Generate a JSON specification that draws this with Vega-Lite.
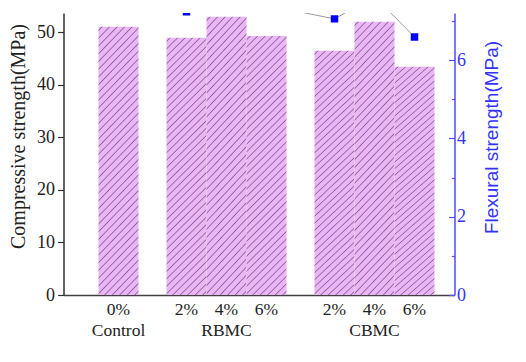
{
 "$schema": "https://vega.github.io/schema/vega-lite/v6.json",
 "autosize": "none",
 "width": 391,
 "height": 282,
 "padding": {"left": 63.5, "top": 13, "right": 71.5, "bottom": 67},
 "background": "white",
 "config": {"view": {"stroke": null}, "axis": {"grid": false}},
 "data": {"values": [
  {"group": "Control", "pct": "0%", "slot": 1, "compressive": 51.07, "flexural": 7.45},
  {"group": "RBMC", "pct": "2%", "slot": 2.7, "compressive": 48.97, "flexural": 7.23},
  {"group": "RBMC", "pct": "4%", "slot": 3.7, "compressive": 52.97, "flexural": 7.75},
  {"group": "RBMC", "pct": "6%", "slot": 4.7, "compressive": 49.3, "flexural": 7.4},
  {"group": "CBMC", "pct": "2%", "slot": 6.4, "compressive": 46.5, "flexural": 7.05},
  {"group": "CBMC", "pct": "4%", "slot": 7.4, "compressive": 52.0, "flexural": 7.62},
  {"group": "CBMC", "pct": "6%", "slot": 8.4, "compressive": 43.45, "flexural": 6.59}
 ]},
 "layer": [
  {"layer": [
   {"mark": {"type": "bar", "size": 40, "stroke": null, "fill": {"gradient": "linear", "x1": 0, "y1": 0, "x2": 0.1734, "y2": 1.127, "stops": [
     {"offset": 0, "color": "#ebb6f8"},
     {"offset": 0.0085, "color": "#ebb6f8"}, {"offset": 0.0125, "color": "#8a6494"}, {"offset": 0.0165, "color": "#ebb6f8"},
     {"offset": 0.0335, "color": "#ebb6f8"}, {"offset": 0.0375, "color": "#8a6494"}, {"offset": 0.0415, "color": "#ebb6f8"},
     {"offset": 0.0585, "color": "#ebb6f8"}, {"offset": 0.0625, "color": "#8a6494"}, {"offset": 0.0665, "color": "#ebb6f8"},
     {"offset": 0.0835, "color": "#ebb6f8"}, {"offset": 0.0875, "color": "#8a6494"}, {"offset": 0.0915, "color": "#ebb6f8"},
     {"offset": 0.1085, "color": "#ebb6f8"}, {"offset": 0.1125, "color": "#8a6494"}, {"offset": 0.1165, "color": "#ebb6f8"},
     {"offset": 0.1335, "color": "#ebb6f8"}, {"offset": 0.1375, "color": "#8a6494"}, {"offset": 0.1415, "color": "#ebb6f8"},
     {"offset": 0.1585, "color": "#ebb6f8"}, {"offset": 0.1625, "color": "#8a6494"}, {"offset": 0.1665, "color": "#ebb6f8"},
     {"offset": 0.1835, "color": "#ebb6f8"}, {"offset": 0.1875, "color": "#8a6494"}, {"offset": 0.1915, "color": "#ebb6f8"},
     {"offset": 0.2085, "color": "#ebb6f8"}, {"offset": 0.2125, "color": "#8a6494"}, {"offset": 0.2165, "color": "#ebb6f8"},
     {"offset": 0.2335, "color": "#ebb6f8"}, {"offset": 0.2375, "color": "#8a6494"}, {"offset": 0.2415, "color": "#ebb6f8"},
     {"offset": 0.2585, "color": "#ebb6f8"}, {"offset": 0.2625, "color": "#8a6494"}, {"offset": 0.2665, "color": "#ebb6f8"},
     {"offset": 0.2835, "color": "#ebb6f8"}, {"offset": 0.2875, "color": "#8a6494"}, {"offset": 0.2915, "color": "#ebb6f8"},
     {"offset": 0.3085, "color": "#ebb6f8"}, {"offset": 0.3125, "color": "#8a6494"}, {"offset": 0.3165, "color": "#ebb6f8"},
     {"offset": 0.3335, "color": "#ebb6f8"}, {"offset": 0.3375, "color": "#8a6494"}, {"offset": 0.3415, "color": "#ebb6f8"},
     {"offset": 0.3585, "color": "#ebb6f8"}, {"offset": 0.3625, "color": "#8a6494"}, {"offset": 0.3665, "color": "#ebb6f8"},
     {"offset": 0.3835, "color": "#ebb6f8"}, {"offset": 0.3875, "color": "#8a6494"}, {"offset": 0.3915, "color": "#ebb6f8"},
     {"offset": 0.4085, "color": "#ebb6f8"}, {"offset": 0.4125, "color": "#8a6494"}, {"offset": 0.4165, "color": "#ebb6f8"},
     {"offset": 0.4335, "color": "#ebb6f8"}, {"offset": 0.4375, "color": "#8a6494"}, {"offset": 0.4415, "color": "#ebb6f8"},
     {"offset": 0.4585, "color": "#ebb6f8"}, {"offset": 0.4625, "color": "#8a6494"}, {"offset": 0.4665, "color": "#ebb6f8"},
     {"offset": 0.4835, "color": "#ebb6f8"}, {"offset": 0.4875, "color": "#8a6494"}, {"offset": 0.4915, "color": "#ebb6f8"},
     {"offset": 0.5085, "color": "#ebb6f8"}, {"offset": 0.5125, "color": "#8a6494"}, {"offset": 0.5165, "color": "#ebb6f8"},
     {"offset": 0.5335, "color": "#ebb6f8"}, {"offset": 0.5375, "color": "#8a6494"}, {"offset": 0.5415, "color": "#ebb6f8"},
     {"offset": 0.5585, "color": "#ebb6f8"}, {"offset": 0.5625, "color": "#8a6494"}, {"offset": 0.5665, "color": "#ebb6f8"},
     {"offset": 0.5835, "color": "#ebb6f8"}, {"offset": 0.5875, "color": "#8a6494"}, {"offset": 0.5915, "color": "#ebb6f8"},
     {"offset": 0.6085, "color": "#ebb6f8"}, {"offset": 0.6125, "color": "#8a6494"}, {"offset": 0.6165, "color": "#ebb6f8"},
     {"offset": 0.6335, "color": "#ebb6f8"}, {"offset": 0.6375, "color": "#8a6494"}, {"offset": 0.6415, "color": "#ebb6f8"},
     {"offset": 0.6585, "color": "#ebb6f8"}, {"offset": 0.6625, "color": "#8a6494"}, {"offset": 0.6665, "color": "#ebb6f8"},
     {"offset": 0.6835, "color": "#ebb6f8"}, {"offset": 0.6875, "color": "#8a6494"}, {"offset": 0.6915, "color": "#ebb6f8"},
     {"offset": 0.7085, "color": "#ebb6f8"}, {"offset": 0.7125, "color": "#8a6494"}, {"offset": 0.7165, "color": "#ebb6f8"},
     {"offset": 0.7335, "color": "#ebb6f8"}, {"offset": 0.7375, "color": "#8a6494"}, {"offset": 0.7415, "color": "#ebb6f8"},
     {"offset": 0.7585, "color": "#ebb6f8"}, {"offset": 0.7625, "color": "#8a6494"}, {"offset": 0.7665, "color": "#ebb6f8"},
     {"offset": 0.7835, "color": "#ebb6f8"}, {"offset": 0.7875, "color": "#8a6494"}, {"offset": 0.7915, "color": "#ebb6f8"},
     {"offset": 0.8085, "color": "#ebb6f8"}, {"offset": 0.8125, "color": "#8a6494"}, {"offset": 0.8165, "color": "#ebb6f8"},
     {"offset": 0.8335, "color": "#ebb6f8"}, {"offset": 0.8375, "color": "#8a6494"}, {"offset": 0.8415, "color": "#ebb6f8"},
     {"offset": 0.8585, "color": "#ebb6f8"}, {"offset": 0.8625, "color": "#8a6494"}, {"offset": 0.8665, "color": "#ebb6f8"},
     {"offset": 0.8835, "color": "#ebb6f8"}, {"offset": 0.8875, "color": "#8a6494"}, {"offset": 0.8915, "color": "#ebb6f8"},
     {"offset": 0.9085, "color": "#ebb6f8"}, {"offset": 0.9125, "color": "#8a6494"}, {"offset": 0.9165, "color": "#ebb6f8"},
     {"offset": 0.9335, "color": "#ebb6f8"}, {"offset": 0.9375, "color": "#8a6494"}, {"offset": 0.9415, "color": "#ebb6f8"},
     {"offset": 0.9585, "color": "#ebb6f8"}, {"offset": 0.9625, "color": "#8a6494"}, {"offset": 0.9665, "color": "#ebb6f8"},
     {"offset": 0.9835, "color": "#ebb6f8"}, {"offset": 0.9875, "color": "#8a6494"}, {"offset": 0.9915, "color": "#ebb6f8"},
     {"offset": 1, "color": "#ebb6f8"}
    ]}},
    "encoding": {
     "x": {"field": "slot", "type": "quantitative", "scale": {"domain": [-0.375, 9.4], "nice": false, "zero": false, "padding": 0},
       "axis": {"title": null, "labels": false, "ticks": false, "grid": false, "domainColor": "#404040", "domainWidth": 1.6}},
     "y": {"field": "compressive", "type": "quantitative", "scale": {"domain": [0, 53.67], "nice": false},
       "axis": {"title": "Compressive strength(MPa)", "values": [0, 5, 10, 15, 20, 25, 30, 35, 40, 45, 50],
        "labelExpr": "datum.value % 10 === 0 ? datum.label : ''",
        "tickSize": {"condition": {"test": "datum.value % 10 === 0", "value": 6}, "value": 3},
        "tickColor": "#333333", "tickWidth": 1.2, "domainColor": "#333333", "domainWidth": 1.5,
        "labelFont": "Liberation Serif", "labelFontSize": 18, "labelColor": "#222222", "labelPadding": 3,
        "titleFont": "Liberation Serif", "titleFontSize": 20, "titleFontWeight": "normal", "titleColor": "#222222",
        "titleX": -45.5, "titleY": 123, "titleBaseline": "middle", "titleAngle": -90, "titleAlign": "center"}}
    }},
   {"mark": {"type": "text", "baseline": "middle", "dy": 15, "font": "Liberation Serif", "fontSize": 17.5, "color": "#222222"},
    "encoding": {
     "x": {"field": "slot", "type": "quantitative"},
     "y": {"datum": 0, "type": "quantitative"},
     "text": {"field": "pct"}}},
   {"transform": [{"aggregate": [{"op": "mean", "field": "slot", "as": "slot"}], "groupby": ["group"]}],
    "mark": {"type": "text", "baseline": "middle", "dy": 36, "font": "Liberation Serif", "fontSize": 17.5, "color": "#222222"},
    "encoding": {
     "x": {"field": "slot", "type": "quantitative"},
     "y": {"datum": 0, "type": "quantitative"},
     "text": {"field": "group"}}}
  ]},
  {"layer": [
   {"mark": {"type": "line", "color": "#9a9a9a", "strokeWidth": 1, "clip": true},
    "encoding": {
     "x": {"field": "slot", "type": "quantitative"},
     "y": {"field": "flexural", "type": "quantitative", "scale": {"domain": [0, 7.2], "nice": false},
      "axis": {"orient": "right", "title": "Flexural strength(MPa)", "values": [0, 1, 2, 3, 4, 5, 6, 7],
       "labelExpr": "datum.value % 2 === 0 ? datum.label : ''",
       "tickSize": {"condition": {"test": "datum.value % 2 === 0", "value": -6}, "value": -3},
       "tickColor": "#4d4dff", "tickWidth": 1.2, "domainColor": "#4d4dff", "domainWidth": 1.5,
       "labelFont": "Liberation Serif", "labelFontSize": 18, "labelColor": "#3333ff", "labelPadding": 8,
       "titleFont": "Liberation Sans", "titleFontSize": 19, "titleFontWeight": "normal", "titleColor": "#3333ff",
       "titleX": 37, "titleY": 124, "titleBaseline": "middle", "titleAngle": -90, "titleAlign": "center"}}}},
   {"mark": {"type": "square", "size": 56, "color": "#0000ff", "opacity": 1, "filled": true, "clip": true},
    "encoding": {
     "x": {"field": "slot", "type": "quantitative"},
     "y": {"field": "flexural", "type": "quantitative"}}}
  ]}
 ],
 "resolve": {"scale": {"y": "independent"}}
}
